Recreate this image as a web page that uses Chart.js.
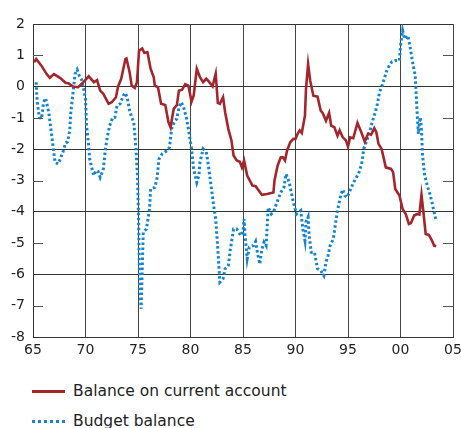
<!DOCTYPE html>
<html>
<head>
<meta charset="UTF-8">
<title>Balance on current account and budget balance</title>
<style type="text/css">
body { margin: 0; background: #fff; font-family: "DejaVu Sans", sans-serif; }
.chartBox { position: relative; width: 461px; height: 360px; }
.legend { position: absolute; left: 0; top: 360px; width: 461px; color: #222; font-size: 15.5px; }
.legend div { position: absolute; left: 32px; white-space: nowrap; }
.legend span.key { display: inline-block; width: 33px; height: 0; vertical-align: middle; margin-right: 8px; }
</style>
<script src="https://cdn.jsdelivr.net/npm/chart.js@4"></script>
</head>
<body>
<div class="chartBox"><canvas id="chart" width="461" height="360"></canvas></div>
<div class="legend">
  <div style="top: 22px"><span class="key" style="border-top: 3px solid #a4262c"></span>Balance on current account</div>
  <div style="top: 52px"><span class="key" style="border-top: 3px dotted #1484cc"></span>Budget balance</div>
</div>
<script>
// Saldo de la balanza por cuenta corriente (años y valores)
var caYears = [1965.1, 1965.3, 1965.8, 1966.3, 1966.6, 1967.0, 1967.6, 1968.1, 1968.4, 1968.8,
  1969.3, 1969.8, 1970.3, 1970.8, 1971.1, 1971.4, 1971.7, 1972.2, 1972.5, 1972.9,
  1973.1, 1973.4, 1973.8, 1973.9, 1974.2, 1974.4, 1974.7, 1974.9, 1975.1, 1975.4,
  1975.6, 1975.9, 1976.2, 1976.5, 1976.6, 1976.9, 1977.2, 1977.6, 1977.9, 1978.1,
  1978.4, 1978.7, 1978.9, 1979.2, 1979.5, 1979.8, 1980.1, 1980.3, 1980.6, 1980.9,
  1981.2, 1981.5, 1981.7, 1982.1, 1982.4, 1982.6, 1982.8, 1983.1, 1983.3, 1983.6,
  1983.9, 1984.1, 1984.4, 1984.7, 1984.9, 1985.1, 1985.4, 1985.9, 1986.2, 1986.5,
  1986.8, 1987.3, 1987.9, 1988.0, 1988.3, 1988.6, 1988.8, 1989.0, 1989.2, 1989.5,
  1989.8, 1990.0, 1990.2, 1990.4, 1990.6, 1990.9, 1991.0, 1991.2, 1991.4, 1991.7,
  1992.1, 1992.4, 1992.6, 1992.9, 1993.2, 1993.4, 1993.7, 1994.0, 1994.2, 1994.5,
  1994.8, 1995.0, 1995.2, 1995.5, 1995.9, 1996.2, 1996.6, 1996.9, 1997.2, 1997.5,
  1997.7, 1997.9, 1998.2, 1998.6, 1999.1, 1999.3, 1999.5, 1999.9, 2000.2, 2000.5,
  2000.8, 2001.0, 2001.3, 2001.6, 2001.8, 2002.0, 2002.2, 2002.4, 2002.7, 2003.0,
  2003.2, 2003.4];
var caValues = [0.78, 0.88, 0.67, 0.40, 0.28, 0.40, 0.27, 0.12, 0.10, 0.00,
  -0.02, 0.14, 0.33, 0.14, 0.21, -0.13, -0.23, -0.55, -0.50, -0.34,
  0.00, 0.25, 0.88, 0.90, 0.46, 0.03, -0.04, 0.14, 1.15, 1.22,
  1.08, 1.10, 0.57, 0.30, 0.03, -0.02, -0.55, -0.59, -1.14, -1.30,
  -0.71, -0.59, -0.13, -0.10, 0.08, 0.03, -0.48, -0.29, 0.57, 0.30,
  0.14, 0.25, 0.18, 0.01, 0.41, -0.52, -0.55, -0.34, -0.82, -1.35,
  -1.72, -2.20, -2.36, -2.40, -2.58, -2.36, -2.84, -3.16, -3.18, -3.32,
  -3.46, -3.43, -3.38, -3.00, -2.52, -2.26, -2.26, -2.36, -2.04, -1.78,
  -1.67, -1.67, -1.51, -1.40, -1.48, -0.93, -0.07, 0.72, 0.19, -0.29,
  -0.32, -0.77, -0.85, -1.09, -0.84, -1.25, -1.30, -1.57, -1.40, -1.62,
  -1.72, -1.92, -1.62, -1.65, -1.16, -1.40, -1.76, -1.51, -1.54, -1.33,
  -1.46, -1.83, -1.99, -2.58, -2.63, -2.74, -3.27, -3.48, -3.91, -4.07,
  -4.39, -4.36, -4.12, -4.07, -4.09, -3.46, -4.07, -4.71, -4.74, -4.92,
  -5.08, -5.10];

// Saldo presupuestario
var bbYears = [1965.3, 1965.4, 1965.6, 1965.8, 1965.9, 1966.0, 1966.2, 1966.5, 1966.7, 1966.9,
  1967.1, 1967.4, 1967.6, 1967.9, 1968.1, 1968.3, 1968.5, 1968.6, 1968.8, 1969.0,
  1969.2, 1969.4, 1969.6, 1969.8, 1970.0, 1970.1, 1970.3, 1970.4, 1970.7, 1970.8,
  1971.0, 1971.2, 1971.4, 1971.7, 1971.9, 1972.1, 1972.3, 1972.6, 1972.8, 1973.0,
  1973.3, 1973.6, 1973.8, 1974.0, 1974.2, 1974.4, 1974.6, 1974.8, 1974.95, 1975.05,
  1975.15, 1975.3, 1975.5, 1975.8, 1976.1, 1976.2, 1976.6, 1976.8, 1977.0, 1977.3,
  1977.8, 1978.0, 1978.2, 1978.5, 1978.7, 1978.9, 1979.1, 1979.3, 1979.6, 1979.8,
  1980.1, 1980.3, 1980.6, 1980.8, 1980.9, 1981.2, 1981.5, 1981.7, 1982.0, 1982.2,
  1982.4, 1982.6, 1982.8, 1983.1, 1983.3, 1983.6, 1983.8, 1984.1, 1984.4, 1984.8,
  1985.0, 1985.1, 1985.2, 1985.4, 1985.6, 1986.0, 1986.2, 1986.4, 1986.6, 1986.8,
  1987.0, 1987.2, 1987.4, 1987.7, 1987.9, 1988.3, 1988.6, 1988.9, 1989.1, 1989.4,
  1989.6, 1989.8, 1990.1, 1990.3, 1990.5, 1990.7, 1990.9, 1991.0, 1991.2, 1991.3,
  1991.5, 1991.8, 1992.1, 1992.4, 1992.7, 1992.9, 1993.1, 1993.3, 1993.6, 1993.8,
  1994.0, 1994.3, 1994.5, 1994.7, 1994.9, 1995.2, 1995.4, 1995.7, 1996.0, 1996.3,
  1996.5, 1996.8, 1997.1, 1997.3, 1997.6, 1997.8, 1998.0, 1998.3, 1998.5, 1998.7,
  1999.0, 1999.2, 1999.5, 1999.9, 2000.0, 2000.2, 2000.4, 2000.7, 2000.9, 2001.1,
  2001.4, 2001.5, 2001.6, 2001.7, 2001.8, 2001.9, 2002.0, 2002.1, 2002.3, 2002.6,
  2002.8, 2003.0, 2003.2, 2003.4];
var bbValues = [0.14, -0.50, -0.98, -1.03, -0.82, -0.50, -0.37, -0.82, -1.35, -1.88,
  -2.42, -2.47, -2.31, -2.04, -1.80, -1.76, -1.40, -0.82, -0.23, 0.40,
  0.54, 0.35, 0.25, -0.02, -0.39, -1.25, -1.88, -2.31, -2.74, -2.84,
  -2.68, -2.71, -2.90, -2.63, -1.99, -1.57, -1.25, -0.98, -0.98, -0.61,
  -0.55, -0.29, -0.20, -0.39, -0.77, -0.98, -1.14, -1.94, -2.84, -4.12,
  -6.25, -7.10, -4.65, -4.55, -3.91, -3.27, -3.22, -2.95, -2.31, -2.15,
  -2.04, -1.94, -1.35, -1.09, -1.03, -0.66, -0.50, -0.61, -0.98, -1.35,
  -1.99, -2.63, -3.06, -2.84, -2.42, -1.99, -2.08, -2.52, -3.27, -3.80,
  -4.23, -5.19, -6.25, -6.14, -5.82, -5.72, -5.19, -4.55, -4.55, -4.76,
  -4.65, -4.23, -4.76, -5.50, -5.13, -5.08, -4.95, -5.35, -5.67, -5.19,
  -4.97, -5.08, -3.86, -4.07, -4.01, -3.64, -3.38, -3.22, -2.79, -3.06,
  -3.38, -3.70, -4.07, -4.01, -3.96, -4.55, -4.92, -4.33, -4.17, -4.76,
  -5.29, -5.29, -5.82, -5.88, -6.04, -5.61, -5.40, -5.08, -4.87, -4.39,
  -3.96, -3.48, -3.29, -3.48, -3.54, -3.32, -3.16, -2.95, -2.79, -2.47,
  -1.99, -1.72, -1.40, -1.14, -0.82, -0.55, -0.18, 0.08, 0.30, 0.51,
  0.72, 0.80, 0.83, 0.83, 1.31, 1.79, 1.52, 1.63, 1.31, 0.88,
  0.35, -0.29, -0.93, -1.51, -1.14, -0.98, -1.40, -2.20, -2.84, -3.22,
  -3.43, -3.70, -4.01, -4.30];

// Marcas cortas interiores en los valores impares
var oddTicks = [1, -1, -3, -5, -7];

function toPoints(xs, ys) {
  return xs.map(function (x, i) { return { x: x, y: ys[i] }; });
}

var innerTicks = {
  id: 'innerTicks',
  afterDatasetsDraw: function (chart) {
    var ctx = chart.ctx, area = chart.chartArea, y = chart.scales.y;
    ctx.save();
    ctx.strokeStyle = '#555';
    ctx.lineWidth = 1;
    oddTicks.forEach(function (v) {
      var py = Math.round(y.getPixelForValue(v)) + 0.5;
      ctx.beginPath();
      ctx.moveTo(area.left, py); ctx.lineTo(area.left + 10, py);
      ctx.moveTo(area.right - 10, py); ctx.lineTo(area.right, py);
      ctx.stroke();
    });
    ctx.restore();
  }
};

var tickFont = { family: '"DejaVu Sans", sans-serif', size: 14 };

new Chart(document.getElementById('chart').getContext('2d'), {
  type: 'line',
  data: {
    datasets: [{
      label: 'Balance on current account',
      data: toPoints(caYears, caValues),
      borderColor: '#a4262c',
      borderWidth: 2.6,
      pointRadius: 0,
      tension: 0,
      fill: false
    }, {
      label: 'Budget balance',
      data: toPoints(bbYears, bbValues),
      borderColor: '#1484cc',
      borderWidth: 3,
      borderDash: [2.5, 2.5],
      pointRadius: 0,
      tension: 0,
      fill: false
    }]
  },
  options: {
    responsive: false,
    animation: false,
    layout: { padding: { top: 24, right: 8, left: 0, bottom: 0 } },
    plugins: { legend: { display: false }, tooltip: { enabled: false } },
    scales: {
      x: {
        type: 'linear',
        min: 1965,
        max: 2005,
        afterFit: function (s) { s.height = 23; s.paddingLeft = 0; s.paddingRight = 0; },
        ticks: {
          stepSize: 5,
          padding: 5,
          color: '#222',
          font: tickFont,
          maxRotation: 0,
          callback: function (v) { return String(v).slice(2); }
        },
        grid: { color: '#444', lineWidth: 1, drawTicks: false },
        border: { color: '#333' }
      },
      y: {
        min: -8,
        max: 2,
        afterFit: function (s) { s.width = 33; s.paddingTop = 0; s.paddingBottom = 0; },
        ticks: { stepSize: 1, padding: 8, color: '#222', font: tickFont },
        grid: {
          drawTicks: false,
          lineWidth: 1,
          color: function (c) { return c.tick && c.tick.value % 2 === 0 ? '#333' : 'rgba(0,0,0,0)'; }
        },
        border: { color: '#333' }
      }
    }
  },
  plugins: [innerTicks]
});
</script>
</body>
</html>
